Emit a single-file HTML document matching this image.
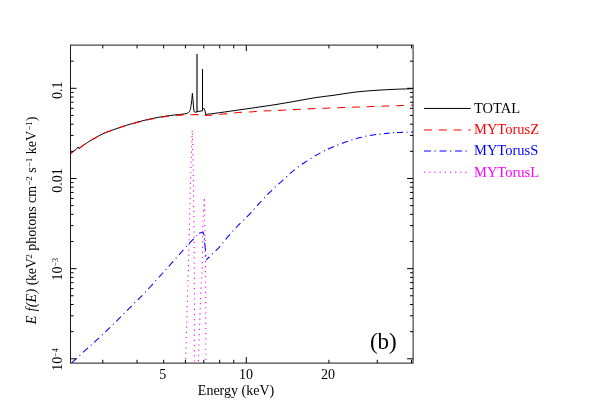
<!DOCTYPE html>
<html><head><meta charset="utf-8"><title>plot</title>
<style>html,body{margin:0;padding:0;background:#fff;}body{width:598px;height:402px;position:relative;overflow:hidden;font-family:"Liberation Serif",serif;}</style>
</head><body>
<svg width="598" height="402" viewBox="0 0 598 402" style="position:absolute;left:0;top:0">
<rect x="0" y="0" width="598" height="402" fill="#fff"/>
<defs><clipPath id="cp"><rect x="70.5" y="45.1" width="342.6" height="318.0"/></clipPath></defs>
<g clip-path="url(#cp)" fill="none" stroke-linejoin="miter" stroke-miterlimit="3">
<path d="M70.50,153.70 C71.57,152.85 75.83,149.45 76.90,148.60 L78.1,147.0 L79.3,148.9 L79.8,147.9   C81.07,147.00 84.88,144.13 87.40,142.50 C89.92,140.87 92.42,139.52 94.90,138.10 C97.38,136.68 99.82,135.18 102.30,134.00 C104.78,132.82 107.32,131.93 109.80,131.00 C112.28,130.07 114.42,129.35 117.20,128.40 C119.98,127.45 123.03,126.38 126.50,125.30 C129.97,124.22 134.40,122.92 138.00,121.95 C141.60,120.98 144.75,120.23 148.10,119.45 C151.45,118.67 154.77,117.91 158.10,117.30 C161.43,116.69 164.75,116.25 168.10,115.80 C171.45,115.35 175.72,114.89 178.20,114.60 C180.68,114.31 181.67,114.22 183.00,114.05 C184.33,113.88 185.32,113.84 186.20,113.60 C187.08,113.36 187.67,113.12 188.30,112.60 C188.93,112.08 189.53,111.70 190.00,110.50 C190.47,109.30 190.82,107.08 191.10,105.40 C191.38,103.72 191.48,102.40 191.70,100.40 C191.92,98.40 192.28,94.57 192.40,93.40 L193.0,100.4 L193.6,108 L194.1,111.4 L194.7,112.2 L196.4,112.0 L197.0,112.0 M197.0,111.5 L198,111.4 L202,110.9 L202.5,110.9 L202.5,69.2 L202.5,109 L203.3,108.6 L204.0,108.4 L204.8,110.1 L205.7,114.5   C207.25,114.30 210.10,113.97 215.00,113.30 C219.90,112.63 228.42,111.44 235.10,110.50 C241.78,109.56 248.45,108.62 255.10,107.65 C261.75,106.68 268.33,105.76 275.00,104.70 C281.67,103.64 288.42,102.47 295.10,101.30 C301.78,100.13 308.45,98.73 315.10,97.70 C321.75,96.67 328.33,96.03 335.00,95.10 C341.67,94.17 348.42,92.88 355.10,92.10 C361.78,91.32 368.45,90.87 375.10,90.40 C381.75,89.93 388.65,89.58 395.00,89.30 C401.35,89.02 410.17,88.80 413.20,88.70" stroke="#000" stroke-width="1.0" stroke-linejoin="bevel"/>
<path d="M197.0,112.2 L197.0,53.9" stroke="#000" stroke-width="1.12"/>
<path d="M70.50,153.70 C71.57,152.85 75.83,149.45 76.90,148.60 L78.1,147.0 L79.3,148.9 L79.8,147.9   C81.07,147.00 84.88,144.13 87.40,142.50 C89.92,140.87 92.42,139.52 94.90,138.10 C97.38,136.68 99.82,135.18 102.30,134.00 C104.78,132.82 107.32,131.93 109.80,131.00 C112.28,130.07 114.42,129.35 117.20,128.40 C119.98,127.45 123.03,126.33 126.50,125.30 C129.97,124.27 134.40,123.16 138.00,122.25 C141.60,121.34 144.75,120.59 148.10,119.85 C151.45,119.11 154.77,118.39 158.10,117.80 C161.43,117.21 164.75,116.73 168.10,116.30 C171.45,115.87 175.38,115.45 178.20,115.20 C181.02,114.95 182.70,114.89 185.00,114.80 C187.30,114.71 189.17,114.68 192.00,114.65 C194.83,114.62 200.33,114.61 202.00,114.60" stroke="#ff0000" stroke-width="1.05" stroke-dasharray="7.9 6.85" stroke-dashoffset="1.9"/>
<path d="M202,114.6 L205.0,114.6 L205.2,115.4  C206.47,115.33 209.83,115.22 212.80,115.00 C215.77,114.78 218.80,114.45 223.00,114.05 C227.20,113.65 233.00,112.99 238.00,112.60 C243.00,112.21 248.08,111.99 253.00,111.70 C257.92,111.41 262.67,111.10 267.50,110.85 C272.33,110.60 277.08,110.44 282.00,110.20 C286.92,109.96 292.17,109.65 297.00,109.40 C301.83,109.15 306.17,108.91 311.00,108.70 C315.83,108.49 320.83,108.33 326.00,108.15 C331.17,107.97 336.83,107.77 342.00,107.60 C347.17,107.42 352.00,107.27 357.00,107.10 C362.00,106.93 367.00,106.78 372.00,106.60 C377.00,106.42 382.00,106.18 387.00,106.00 C392.00,105.82 397.63,105.65 402.00,105.50 C406.37,105.35 411.33,105.17 413.20,105.10" stroke="#ff0000" stroke-width="1.05" stroke-dasharray="7.9 6.85" stroke-dashoffset="11.4"/>
<path d="M71.30,363.20 C73.57,361.12 80.97,354.28 84.90,350.70 C88.83,347.12 91.58,344.75 94.90,341.70 C98.22,338.65 101.48,335.55 104.80,332.40 C108.12,329.25 111.48,326.05 114.80,322.80 C118.12,319.55 121.38,316.22 124.70,312.90 C128.02,309.58 131.38,306.22 134.70,302.90 C138.02,299.58 141.03,296.75 144.60,293.00 C148.17,289.25 152.73,284.10 156.10,280.40 C159.47,276.70 161.90,274.03 164.80,270.80 C167.70,267.57 170.57,264.30 173.50,261.00 C176.43,257.70 179.87,253.87 182.40,251.00 C184.93,248.13 186.70,245.95 188.70,243.80 C190.70,241.65 192.95,239.55 194.40,238.10 C195.85,236.65 196.75,235.75 197.40,235.10 C198.05,234.45 198.15,234.35 198.30,234.20" stroke="#0000ff" stroke-width="1.05" stroke-dasharray="6.6 3.8 1.1 3.7" stroke-dashoffset="-0.7"/>
<path d="M199.2,233.2 L200.2,232.7 L203.2,232.6 L204.1,235.2 M204.35,238.3 L204.45,239.5 M204.6,242.6 L205.6,250.8 M205.85,254.7 L205.95,255.9" stroke="#0000ff" stroke-width="1.05"/>
<path d="M327.80,149.26 L329.35,148.53 L330.90,147.80 L332.45,147.17 L334.00,146.54 M341.90,143.41 L343.40,142.83 L344.90,142.25 L346.40,141.75 L347.90,141.24 M355.90,138.73 L357.40,138.29 L358.90,137.85 L360.40,137.50 L361.90,137.14 M369.90,135.47 L371.47,135.18 L373.05,134.90 L374.62,134.74 L376.20,134.58 M384.00,133.70 L385.43,133.54 L386.85,133.38 L388.27,133.21 L389.70,133.05 M397.00,132.49 L398.52,132.44 L400.05,132.40 L401.58,132.36 L403.10,132.31 M410.90,132.08 L411.52,132.06 L412.15,132.04 L412.77,132.02 L413.40,132.00 M337.25,145.22 L338.35,144.79 M351.35,140.08 L352.45,139.74 M365.35,136.33 L366.45,136.10 M379.45,134.25 L380.55,134.13 M392.85,132.67 L393.95,132.58 M406.55,132.22 L407.65,132.18 " stroke="#0000ff" stroke-width="1.05"/>
<path d="M206.30,259.80 C206.80,259.33 207.80,258.45 209.30,257.00 C210.80,255.55 213.55,252.83 215.30,251.10 C217.05,249.37 218.00,248.63 219.80,246.60 C221.60,244.57 223.37,242.08 226.10,238.90 C228.83,235.72 232.77,231.13 236.20,227.50 C239.63,223.87 244.23,219.57 246.70,217.10 C249.17,214.63 249.37,214.48 251.00,212.70 C252.63,210.92 254.83,208.25 256.50,206.40 C258.17,204.55 259.25,203.52 261.00,201.60 C262.75,199.68 265.20,196.78 267.00,194.90 C268.80,193.02 269.98,192.03 271.80,190.30 C273.62,188.57 276.03,186.20 277.90,184.50 C279.77,182.80 281.13,181.80 283.00,180.10 C284.87,178.40 287.25,175.97 289.10,174.30 C290.95,172.63 292.10,171.68 294.10,170.10 C296.10,168.52 298.98,166.30 301.10,164.80 C303.22,163.30 304.65,162.48 306.80,161.10 C308.95,159.72 311.80,157.83 314.00,156.50 C316.20,155.17 318.07,154.13 320.00,153.10 C321.93,152.07 324.67,150.77 325.60,150.30" stroke="#0000ff" stroke-width="1.05" stroke-dasharray="6.6 3.85 1.1 3.75" stroke-dashoffset="2.4"/>
<g stroke="#ff00ff" stroke-width="1.1" stroke-dasharray="1.15 4.0">
<path d="M185.60,362.50 C185.93,350.42 187.13,305.42 187.60,290.00 C188.07,274.58 187.95,286.67 188.40,270.00 C188.85,253.33 189.67,213.17 190.30,190.00 C190.93,166.83 191.88,140.83 192.20,131.00" stroke-dashoffset="1.3"/><path d="M192.30,131.00 C192.50,140.83 193.17,166.83 193.50,190.00 C193.83,213.17 194.17,241.25 194.30,270.00 C194.43,298.75 194.30,347.08 194.30,362.50" stroke-dashoffset="-2.7"/><path d="M198.30,362.50 C198.73,350.42 200.25,305.42 200.90,290.00 C201.55,274.58 201.88,280.50 202.20,270.00 C202.52,259.50 202.55,237.00 202.80,227.00 C203.05,217.00 203.45,214.67 203.70,210.00 C203.95,205.33 204.20,200.83 204.30,199.00" stroke-dashoffset="-1.6"/><path d="M204.40,199.00 C204.58,210.83 205.25,242.75 205.50,270.00 C205.75,297.25 205.83,347.08 205.90,362.50" stroke-dashoffset="-0.1"/>
</g>
</g>
<rect x="70.5" y="45.1" width="342.6" height="318.0" fill="none" stroke="#1c1c1c" stroke-width="1"/>
<g stroke="#000" stroke-width="1">
<line x1="102.77" y1="363.10" x2="102.77" y2="359.80"/>
<line x1="102.77" y1="45.10" x2="102.77" y2="48.40"/>
<line x1="137.07" y1="363.10" x2="137.07" y2="359.80"/>
<line x1="137.07" y1="45.10" x2="137.07" y2="48.40"/>
<line x1="163.67" y1="363.10" x2="163.67" y2="359.80"/>
<line x1="163.67" y1="45.10" x2="163.67" y2="48.40"/>
<line x1="185.40" y1="363.10" x2="185.40" y2="359.80"/>
<line x1="185.40" y1="45.10" x2="185.40" y2="48.40"/>
<line x1="203.78" y1="363.10" x2="203.78" y2="359.80"/>
<line x1="203.78" y1="45.10" x2="203.78" y2="48.40"/>
<line x1="219.70" y1="363.10" x2="219.70" y2="359.80"/>
<line x1="219.70" y1="45.10" x2="219.70" y2="48.40"/>
<line x1="233.74" y1="363.10" x2="233.74" y2="359.80"/>
<line x1="233.74" y1="45.10" x2="233.74" y2="48.40"/>
<line x1="246.30" y1="363.10" x2="246.30" y2="357.10"/>
<line x1="246.30" y1="45.10" x2="246.30" y2="51.10"/>
<line x1="328.93" y1="363.10" x2="328.93" y2="359.80"/>
<line x1="328.93" y1="45.10" x2="328.93" y2="48.40"/>
<line x1="377.27" y1="363.10" x2="377.27" y2="359.80"/>
<line x1="377.27" y1="45.10" x2="377.27" y2="48.40"/>
<line x1="411.50" y1="363.10" x2="411.50" y2="359.80"/>
<line x1="411.50" y1="45.10" x2="411.50" y2="48.40"/>
<line x1="70.50" y1="358.81" x2="76.50" y2="358.81"/>
<line x1="413.10" y1="358.81" x2="407.10" y2="358.81"/>
<line x1="70.50" y1="331.67" x2="73.60" y2="331.67"/>
<line x1="413.10" y1="331.67" x2="410.00" y2="331.67"/>
<line x1="70.50" y1="315.79" x2="73.60" y2="315.79"/>
<line x1="413.10" y1="315.79" x2="410.00" y2="315.79"/>
<line x1="70.50" y1="304.52" x2="73.60" y2="304.52"/>
<line x1="413.10" y1="304.52" x2="410.00" y2="304.52"/>
<line x1="70.50" y1="295.78" x2="73.60" y2="295.78"/>
<line x1="413.10" y1="295.78" x2="410.00" y2="295.78"/>
<line x1="70.50" y1="288.64" x2="73.60" y2="288.64"/>
<line x1="413.10" y1="288.64" x2="410.00" y2="288.64"/>
<line x1="70.50" y1="282.61" x2="73.60" y2="282.61"/>
<line x1="413.10" y1="282.61" x2="410.00" y2="282.61"/>
<line x1="70.50" y1="277.38" x2="73.60" y2="277.38"/>
<line x1="413.10" y1="277.38" x2="410.00" y2="277.38"/>
<line x1="70.50" y1="272.77" x2="73.60" y2="272.77"/>
<line x1="413.10" y1="272.77" x2="410.00" y2="272.77"/>
<line x1="70.50" y1="268.64" x2="76.50" y2="268.64"/>
<line x1="413.10" y1="268.64" x2="407.10" y2="268.64"/>
<line x1="70.50" y1="241.50" x2="73.60" y2="241.50"/>
<line x1="413.10" y1="241.50" x2="410.00" y2="241.50"/>
<line x1="70.50" y1="225.62" x2="73.60" y2="225.62"/>
<line x1="413.10" y1="225.62" x2="410.00" y2="225.62"/>
<line x1="70.50" y1="214.35" x2="73.60" y2="214.35"/>
<line x1="413.10" y1="214.35" x2="410.00" y2="214.35"/>
<line x1="70.50" y1="205.61" x2="73.60" y2="205.61"/>
<line x1="413.10" y1="205.61" x2="410.00" y2="205.61"/>
<line x1="70.50" y1="198.47" x2="73.60" y2="198.47"/>
<line x1="413.10" y1="198.47" x2="410.00" y2="198.47"/>
<line x1="70.50" y1="192.44" x2="73.60" y2="192.44"/>
<line x1="413.10" y1="192.44" x2="410.00" y2="192.44"/>
<line x1="70.50" y1="187.21" x2="73.60" y2="187.21"/>
<line x1="413.10" y1="187.21" x2="410.00" y2="187.21"/>
<line x1="70.50" y1="182.60" x2="73.60" y2="182.60"/>
<line x1="413.10" y1="182.60" x2="410.00" y2="182.60"/>
<line x1="70.50" y1="178.47" x2="76.50" y2="178.47"/>
<line x1="413.10" y1="178.47" x2="407.10" y2="178.47"/>
<line x1="70.50" y1="151.33" x2="73.60" y2="151.33"/>
<line x1="413.10" y1="151.33" x2="410.00" y2="151.33"/>
<line x1="70.50" y1="135.45" x2="73.60" y2="135.45"/>
<line x1="413.10" y1="135.45" x2="410.00" y2="135.45"/>
<line x1="70.50" y1="124.18" x2="73.60" y2="124.18"/>
<line x1="413.10" y1="124.18" x2="410.00" y2="124.18"/>
<line x1="70.50" y1="115.44" x2="73.60" y2="115.44"/>
<line x1="413.10" y1="115.44" x2="410.00" y2="115.44"/>
<line x1="70.50" y1="108.30" x2="73.60" y2="108.30"/>
<line x1="413.10" y1="108.30" x2="410.00" y2="108.30"/>
<line x1="70.50" y1="102.27" x2="73.60" y2="102.27"/>
<line x1="413.10" y1="102.27" x2="410.00" y2="102.27"/>
<line x1="70.50" y1="97.04" x2="73.60" y2="97.04"/>
<line x1="413.10" y1="97.04" x2="410.00" y2="97.04"/>
<line x1="70.50" y1="92.43" x2="73.60" y2="92.43"/>
<line x1="413.10" y1="92.43" x2="410.00" y2="92.43"/>
<line x1="70.50" y1="88.30" x2="76.50" y2="88.30"/>
<line x1="413.10" y1="88.30" x2="407.10" y2="88.30"/>
<line x1="70.50" y1="61.16" x2="73.60" y2="61.16"/>
<line x1="413.10" y1="61.16" x2="410.00" y2="61.16"/>
</g>
<!-- legend -->
<g fill="none" stroke-width="1.1">
<line x1="424" y1="108.45" x2="470.7" y2="108.45" stroke="#000" stroke-width="1"/>
<line x1="424" y1="129.95" x2="470.7" y2="129.95" stroke="#ff0000" stroke-dasharray="8 6.8"/>
<line x1="424" y1="150.95" x2="467.5" y2="150.95" stroke="#0000ff" stroke-dasharray="7 3.5 1.3 3.7"/>
<line x1="424" y1="172.3" x2="467.5" y2="172.3" stroke="#ff00ff" stroke-dasharray="1.3 3.87"/>
</g>
<g style="font-family:'Liberation Serif',serif;font-size:14px" opacity="0.999">
<text x="474.0" y="112.8" fill="#000" font-size="14.5px">TOTAL</text>
<text x="474.0" y="134.1" fill="#ff0000" font-size="14.5px">MYTorusZ</text>
<text x="474.0" y="155.4" fill="#0000ff" font-size="14.5px">MYTorusS</text>
<text x="474.0" y="176.6" fill="#ff00ff" font-size="14.5px">MYTorusL</text>
<text x="162.8" y="378.6" text-anchor="middle">5</text>
<text x="245.9" y="378.6" text-anchor="middle">10</text>
<text x="328.0" y="378.6" text-anchor="middle">20</text>
<text x="236.0" y="395" text-anchor="middle">Energy (keV)</text>
<text transform="translate(61.6,90.2) rotate(-90)" text-anchor="middle">0.1</text>
<text transform="translate(61.6,180.5) rotate(-90)" text-anchor="middle">0.01</text>
<text transform="translate(61.6,269.3) rotate(-90)" text-anchor="middle">10<tspan font-size="8px" dy="-3.7">−3</tspan></text>
<text transform="translate(61.6,359.4) rotate(-90)" text-anchor="middle">10<tspan font-size="8px" dy="-3.7">−4</tspan></text>
<text transform="translate(36,324.3) rotate(-90)"><tspan font-style="italic" letter-spacing="0.33">E f(E)</tspan><tspan letter-spacing="-0.3"> (keV</tspan><tspan font-size="8.5px" dy="-4.5">2</tspan><tspan dy="4.5"> photons cm</tspan><tspan font-size="9px" dy="-4.5">−2</tspan><tspan dy="4.5"> s</tspan><tspan font-size="9px" dy="-4.5">−1</tspan><tspan dy="4.5"> keV</tspan><tspan font-size="9px" dy="-4.5">−1</tspan><tspan dy="4.5">)</tspan></text>
</g>
<text x="369.9" y="349" style="font-family:'Liberation Serif',serif;font-size:23px" opacity="0.999">(b)</text>
</svg>
</body></html>
